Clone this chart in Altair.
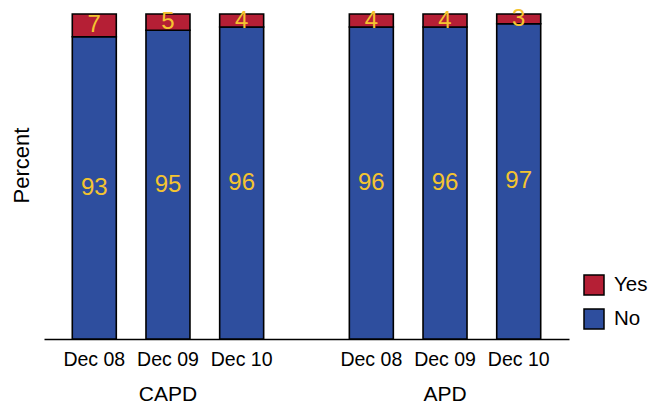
import altair as alt
import pandas as pd

# Peritonitis-style yes/no shares by dialysis modality and census date
groups = ["CAPD", "CAPD", "CAPD", "APD", "APD", "APD"]
months = ["Dec 08", "Dec 09", "Dec 10", "Dec 08", "Dec 09", "Dec 10"]
yes_pct = [7, 5, 4, 4, 4, 3]
no_pct = [93, 95, 96, 96, 96, 97]

group_order = ["CAPD", "APD"]
month_order = ["Dec 08", "Dec 09", "Dec 10"]
answer_order = ["Yes", "No"]
answer_colors = ["#B51F35", "#2E4E9E"]

rows = []
for g, m, y, n in zip(groups, months, yes_pct, no_pct):
    rows.append({"group": g, "month": m, "answer": "No", "stack_order": 0, "pct": n})
    rows.append({"group": g, "month": m, "answer": "Yes", "stack_order": 1, "pct": y})
df = pd.DataFrame(rows)

FONT = "Liberation Sans"

x_enc = alt.X(
    "group:N",
    sort=group_order,
    scale=alt.Scale(paddingInner=0.105, paddingOuter=0),
    axis=alt.Axis(
        title=None,
        ticks=False,
        tickSize=0,
        grid=False,
        domain=True,
        domainColor="black",
        domainWidth=1.5,
        labelFontSize=21,
        labelFont=FONT,
        labelColor="black",
        labelPadding=44,
        labelAngle=0,
    ),
)
xoff_enc = alt.XOffset(
    "month:N",
    sort=month_order,
    scale=alt.Scale(paddingInner=0.403, paddingOuter=0.384),
)

base = alt.Chart(df).transform_stack(
    stack="pct",
    groupby=["group", "month"],
    as_=["y0", "y1"],
    sort=[alt.SortField("stack_order", order="ascending")],
).transform_calculate(mid="(datum.y0 + datum.y1) / 2")

bars = base.mark_bar(stroke="black", strokeWidth=1.6).encode(
    x=x_enc,
    xOffset=xoff_enc,
    y=alt.Y(
        "y0:Q",
        scale=alt.Scale(domain=[0, 100], nice=False, zero=True),
        axis=alt.Axis(
            title="Percent",
            labels=False,
            ticks=False,
            domain=False,
            grid=False,
            titleFontSize=22,
            titleFont=FONT,
            titleFontWeight="normal",
            titleColor="black",
            titlePadding=11,
            titleY=151,
        ),
    ),
    y2="y1:Q",
    color=alt.Color(
        "answer:N",
        scale=alt.Scale(domain=answer_order, range=answer_colors),
        legend=alt.Legend(
            title=None,
            orient="none",
            legendX=539,
            legendY=260,
            symbolType="square",
            symbolSize=400,
            symbolStrokeColor="black",
            symbolStrokeWidth=1.5,
            symbolOpacity=1,
            labelFontSize=20.5,
            labelFont=FONT,
            labelColor="black",
            labelOffset=9,
            rowPadding=8,
            padding=0,
        ),
    ),
)

values = base.mark_text(
    font=FONT, fontSize=24, color="#F4C430", baseline="middle", align="center"
).encode(
    x=alt.X("group:N", sort=group_order),
    xOffset=alt.XOffset("month:N", sort=month_order),
    y=alt.Y("mid:Q"),
    text=alt.Text("pct:Q"),
)

month_labels = alt.Chart(df[df["answer"] == "No"]).mark_text(
    font=FONT, fontSize=19.5, color="black", baseline="alphabetic", align="center"
).encode(
    x=alt.X("group:N", sort=group_order),
    xOffset=alt.XOffset("month:N", sort=month_order),
    y=alt.value(352),
    text="month:N",
)

chart = (
    alt.layer(bars, values, month_labels)
    .properties(
        width=525,
        height=325,
        padding={"left": 44, "top": 14, "right": 81, "bottom": 64},
        autosize=alt.AutoSizeParams(type="none"),
        view=alt.ViewBackground(stroke="white", strokeWidth=0, strokeOpacity=0),
    )
    .configure_view(stroke="white", strokeWidth=0, strokeOpacity=0)
    .configure_axis(grid=False)
    .configure(background="white")
)

chart.save("out.html", embed_options={"renderer": "svg", "actions": False})
